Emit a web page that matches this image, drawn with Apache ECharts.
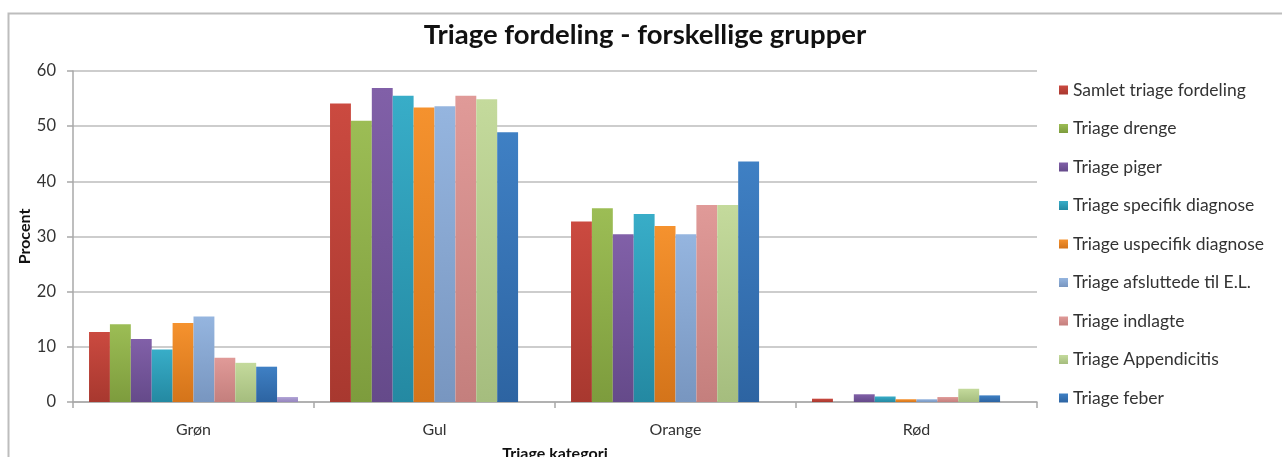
<!DOCTYPE html>
<html>
<head>
<meta charset="utf-8">
<script src="https://cdn.jsdelivr.net/npm/echarts@6/dist/echarts.min.js"></script>
<style>
  html, body { margin: 0; padding: 0; background: #fff; }
  #chart { width: 1282px; height: 457px; }
</style>
</head>
<body>
<div id="chart"></div>
<script>
const categories = ["Grøn", "Gul", "Orange", "Rød"];

const seriesNames = [
  "Samlet triage fordeling",
  "Triage drenge",
  "Triage piger",
  "Triage specifik diagnose",
  "Triage uspecifik diagnose",
  "Triage afsluttede til E.L.",
  "Triage indlagte",
  "Triage Appendicitis",
  "Triage feber",
  "Serie 10",
];

const samlet = [12.7, 54.1, 32.7, 0.6];
const drenge = [14.1, 51.0, 35.1, 0];
const piger = [11.4, 56.9, 30.4, 1.4];
const specifik = [9.5, 55.5, 34.1, 1.0];
const uspecifik = [14.3, 53.4, 31.9, 0.5];
const afsluttede = [15.5, 53.6, 30.4, 0.5];
const indlagte = [8.0, 55.5, 35.7, 0.9];
const appendicitis = [7.1, 54.9, 35.7, 2.4];
const feber = [6.4, 48.9, 43.6, 1.2];
const serie10 = [0.9, 0, 0, 0];

const yTicks = [0, 10, 20, 30, 40, 50, 60];

const seriesValues = [samlet, drenge, piger, specifik, uspecifik, afsluttede, indlagte, appendicitis, feber, serie10];
const colors = [
  ["#cb4a40", "#a8382f"],
  ["#9cbd55", "#7d9c3d"],
  ["#8160a8", "#654a8a"],
  ["#38adc8", "#2489a2"],
  ["#f5922e", "#d4741a"],
  ["#95b5df", "#7896c0"],
  ["#e09a98", "#c47f7d"],
  ["#c4da9c", "#a5bd7e"],
  ["#3f80c4", "#2d64a2"],
  ["#b0a2d6", "#9585bd"],
];

const font = "Lato, 'Open Sans', sans-serif";
const chart = echarts.init(document.getElementById("chart"));

chart.setOption({
  animation: false,
  backgroundColor: "#fff",
  textStyle: { fontFamily: font },
  graphic: [
    {
      type: "rect",
      shape: { x: 8.5, y: 13.5, width: 1300, height: 460 },
      style: { fill: "none", stroke: "#bdbdbd", lineWidth: 2 },
      silent: true,
    },
  ],
  title: {
    text: "Triage fordeling - forskellige grupper",
    left: 640,
    top: 16,
    textAlign: "center",
    textStyle: { fontFamily: font, fontSize: 27.5, fontWeight: "bold", color: "#111" },
  },
  legend: {
    orient: "vertical",
    left: 1059,
    top: 80,
    padding: 0,
    itemWidth: 9,
    itemHeight: 9,
    itemGap: 18.5,
    icon: "rect",
    data: seriesNames.slice(0, 9),
    textStyle: { fontFamily: font, fontSize: 17.5, color: "#333", lineHeight: 20 },
  },
  grid: { left: 73, right: 245, top: 71, bottom: 55, outerBoundsMode: "none" },
  xAxis: {
    type: "category",
    data: categories,
    axisLine: { lineStyle: { color: "#a8a8a8", width: 1.5 } },
    axisTick: { show: true, length: 6, lineStyle: { color: "#a8a8a8", width: 1.5 } },
    axisLabel: { color: "#333", fontSize: 16, margin: 20 },
    name: "Triage kategori",
    nameLocation: "middle",
    nameGap: 44,
    nameMoveOverlap: false,
    nameTextStyle: { color: "#111", fontSize: 16, fontWeight: "bold" },
  },
  yAxis: {
    type: "value",
    min: yTicks[0],
    max: yTicks[yTicks.length - 1],
    interval: 10,
    axisLine: { show: true, lineStyle: { color: "#a8a8a8", width: 1.5 } },
    axisTick: { show: true, length: 6, lineStyle: { color: "#a8a8a8", width: 1.5 } },
    splitLine: { lineStyle: { color: "#bcbcbc", width: 1.5 } },
    axisLabel: { color: "#333", fontSize: 16.5, margin: 17 },
    name: "Procent",
    nameLocation: "middle",
    nameGap: 40,
    nameMoveOverlap: false,
    nameTextStyle: { color: "#111", fontSize: 16, fontWeight: "bold" },
  },
  series: seriesValues.map((vals, i) => ({
    name: seriesNames[i],
    type: "bar",
    data: vals,
    barGap: "0%",
    barCategoryGap: "13.3%",
    itemStyle: {
      color: new echarts.graphic.LinearGradient(0, 0, 0, 1, [
        { offset: 0, color: colors[i][0] },
        { offset: 1, color: colors[i][1] },
      ]),
    },
  })),
});
</script>
</body>
</html>
